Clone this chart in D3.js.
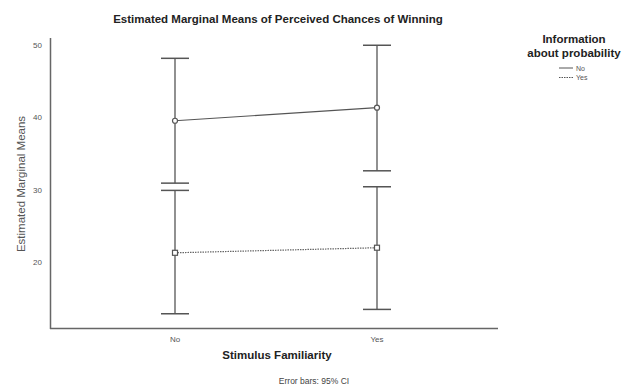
<!DOCTYPE html>
<html><head><meta charset="utf-8">
<script src="https://cdn.jsdelivr.net/npm/d3@7"></script>
<style>body{margin:0;background:#fff}svg{display:block}text{font-family:"Liberation Sans",Arial,sans-serif}</style>
</head><body>
<script>
const categories = ["No", "Yes"];
const seriesNames = ["No", "Yes"];
const meansNo = [39.5, 41.3];
const lowerNo = [30.9, 32.6];
const upperNo = [48.1, 49.9];
const meansYes = [21.3, 22.0];
const lowerYes = [12.9, 13.5];
const upperYes = [29.9, 30.4];
const yTicks = [20, 30, 40, 50];

const W = 626, H = 387;
const svg = d3.select("body").append("svg").attr("width", W).attr("height", H);

const x = d3.scalePoint().domain(categories).range([175, 377]);
const y = d3.scaleLinear().domain([10.8, 50.9]).range([329, 38]);

const axisColor = "#666";
const lineColor = "#555";

// axes
svg.append("line").attr("x1", 50.5).attr("x2", 50.5).attr("y1", y(50.9)).attr("y2", y(10.8))
  .attr("stroke", axisColor).attr("stroke-width", 1.5);
svg.append("line").attr("x1", 50).attr("x2", 498).attr("y1", 328.5).attr("y2", 328.5)
  .attr("stroke", axisColor).attr("stroke-width", 1.5);

svg.selectAll(".yt").data(yTicks).enter().append("text")
  .attr("x", 42).attr("y", d => y(d) + 3).attr("text-anchor", "end")
  .attr("font-size", 8).attr("fill", "#555").text(d => d);

svg.selectAll(".xt").data(categories).enter().append("text")
  .attr("x", d => x(d)).attr("y", 342).attr("text-anchor", "middle")
  .attr("font-size", 8).attr("fill", "#555").text(d => d);

// titles
svg.append("text").attr("x", 278).attr("y", 23).attr("text-anchor", "middle")
  .attr("font-size", 11.5).attr("font-weight", "bold").attr("fill", "#222")
  .text("Estimated Marginal Means of Perceived Chances of Winning");
svg.append("text").attr("transform", "translate(25,184) rotate(-90)").attr("text-anchor", "middle")
  .attr("font-size", 11.5).attr("fill", "#555").text("Estimated Marginal Means");
svg.append("text").attr("x", 277).attr("y", 359).attr("text-anchor", "middle")
  .attr("font-size", 11.5).attr("font-weight", "bold").attr("fill", "#222").text("Stimulus Familiarity");
svg.append("text").attr("x", 314).attr("y", 384).attr("text-anchor", "middle")
  .attr("font-size", 8.5).attr("fill", "#444").text("Error bars: 95% CI");

// series
const series = [
  {name: seriesNames[0], m: meansNo, lo: lowerNo, hi: upperNo, dash: null, marker: "circle"},
  {name: seriesNames[1], m: meansYes, lo: lowerYes, hi: upperYes, dash: "1.5,1", marker: "square"}
];
const cap = 14;
series.forEach(s => {
  const g = svg.append("g");
  categories.forEach((c, i) => {
    g.append("line").attr("x1", x(c)).attr("x2", x(c)).attr("y1", y(s.lo[i])).attr("y2", y(s.hi[i]))
      .attr("stroke", lineColor).attr("stroke-width", 1.3);
    [s.lo[i], s.hi[i]].forEach(v => {
      g.append("line").attr("x1", x(c) - cap).attr("x2", x(c) + cap).attr("y1", y(v)).attr("y2", y(v))
        .attr("stroke", lineColor).attr("stroke-width", 1.5);
    });
  });
  const line = d3.line().x((d, i) => x(categories[i])).y(d => y(d));
  g.append("path").attr("d", line(s.m)).attr("fill", "none").attr("stroke", s.dash ? "#666" : lineColor)
    .attr("stroke-width", 1.2).attr("stroke-dasharray", s.dash);
  categories.forEach((c, i) => {
    if (s.marker === "circle") {
      g.append("circle").attr("cx", x(c)).attr("cy", y(s.m[i])).attr("r", 2.5)
        .attr("fill", "#fff").attr("stroke", lineColor).attr("stroke-width", 1.2);
    } else {
      g.append("rect").attr("x", x(c) - 2.5).attr("y", y(s.m[i]) - 2.5).attr("width", 5).attr("height", 5)
        .attr("fill", "#fff").attr("stroke", lineColor).attr("stroke-width", 1.2);
    }
  });
});

// legend
svg.append("text").attr("x", 574).attr("y", 43).attr("text-anchor", "middle")
  .attr("font-size", 11.5).attr("font-weight", "bold").attr("fill", "#222").text("Information");
svg.append("text").attr("x", 574).attr("y", 57).attr("text-anchor", "middle")
  .attr("font-size", 11.5).attr("font-weight", "bold").attr("fill", "#222").text("about  probability");
series.forEach((s, i) => {
  const ly = 68 + i * 9.5;
  svg.append("line").attr("x1", 559).attr("x2", 573).attr("y1", ly).attr("y2", ly)
    .attr("stroke", lineColor).attr("stroke-width", 1).attr("stroke-dasharray", s.dash);
  svg.append("text").attr("x", 576).attr("y", ly + 2.5).attr("font-size", 7).attr("fill", "#555").text(s.name);
});
</script>
</body></html>
